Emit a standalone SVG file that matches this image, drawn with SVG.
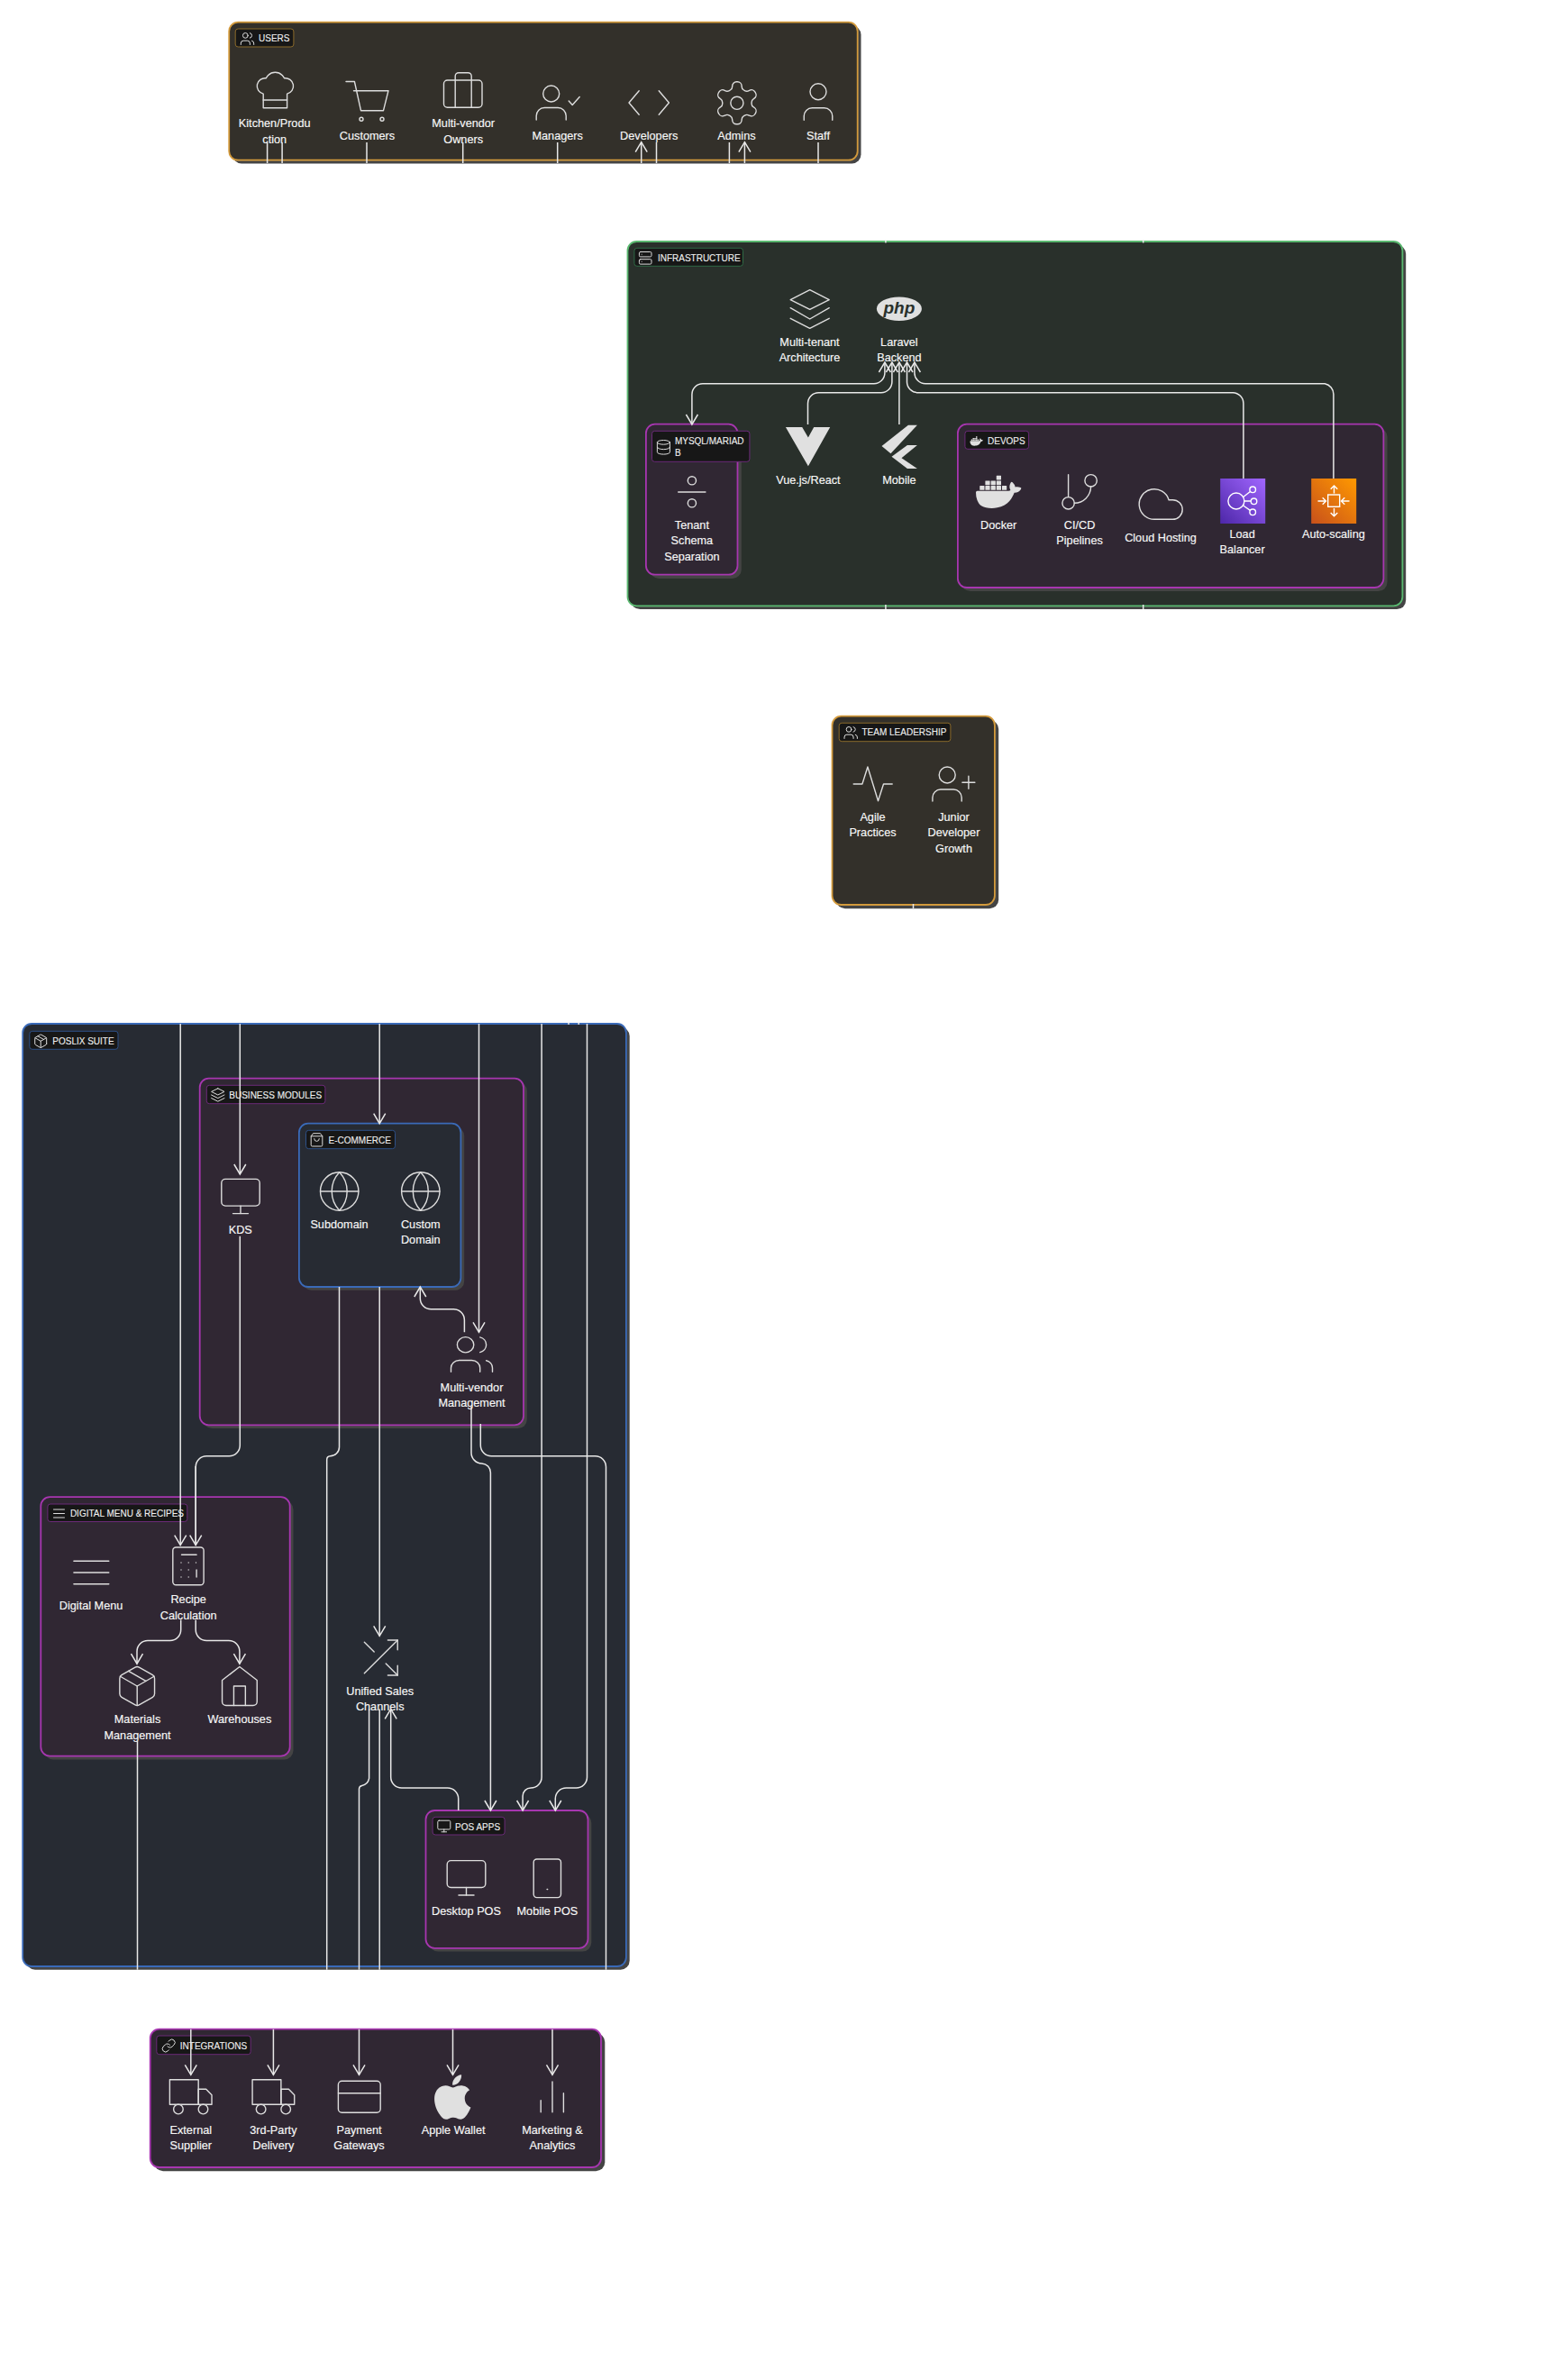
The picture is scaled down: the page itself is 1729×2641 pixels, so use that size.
<svg xmlns="http://www.w3.org/2000/svg" width="1729" height="2641" viewBox="0 0 1729 2641">
<style>
text{font-family:"Liberation Sans",Arial,sans-serif}
.t{font-size:12.7px;fill:#f8f8f8;stroke:#f8f8f8;stroke-width:.15;text-anchor:middle;transform:translate(0,-.3px)}
.h{font-size:10px;fill:#f0f0f0;stroke:#f0f0f0;stroke-width:.1}
.sh{fill:#444444;transform:translate(.8px,.8px)}
.or{fill:#33302a;stroke:#d39a3c;stroke-width:1.8}
.gr{fill:#29302b;stroke:#5ab870;stroke-width:1.8}
.bl{fill:#272b33;stroke:#3a6ab8;stroke-width:1.8}
.pu{fill:#302733;stroke:#a736b0;stroke-width:1.8}
.lb{fill:#171717;stroke-width:1}
.lo{stroke:#8a6a2a}.lg{stroke:#2f6a45}.ll{stroke:#2d5088}.lp{stroke:#6b2a78}
.i{fill:none;stroke:#dddddd;stroke-width:1.4;stroke-linecap:round;stroke-linejoin:round}
.s{fill:none;stroke:#dddddd;stroke-width:1;stroke-linecap:round;stroke-linejoin:round}
.f{fill:#e0e0e0;stroke:none}
defs *{vector-effect:non-scaling-stroke}
.c{fill:none;stroke:#e8e8e8;stroke-width:1.5}
.a{marker-end:url(#arr)}
.b{marker-start:url(#arr)}
</style>
<defs>
<marker id="arr" markerUnits="userSpaceOnUse" markerWidth="16" markerHeight="16" refX="13" refY="8" orient="auto-start-reverse" overflow="visible"><path d="M2 1.5L13 8L2 14.5" fill="none" stroke="#e8e8e8" stroke-width="1.5"/></marker>
<linearGradient id="gp" x1="0" y1="1" x2="1" y2="0"><stop offset="0" stop-color="#4d27a8"/><stop offset="1" stop-color="#a166ff"/></linearGradient>
<linearGradient id="go" x1="0" y1="1" x2="1" y2="0"><stop offset="0" stop-color="#c8511b"/><stop offset="1" stop-color="#ff9900"/></linearGradient>
<g id="chef" transform="translate(-12,-12)"><path d="M6 13.87A4 4 0 0 1 7.41 6a5.11 5.11 0 0 1 1.05-1.54 5 5 0 0 1 7.08 0A5.11 5.11 0 0 1 16.59 6 4 4 0 0 1 18 13.87V21H6Z"/><line x1="6" y1="17" x2="18" y2="17"/></g>
<g id="user" transform="translate(-12,-12)"><path d="M19 21v-2a4 4 0 0 0-4-4H9a4 4 0 0 0-4 4v2"/><circle cx="12" cy="7" r="4"/></g>
<g id="users" transform="translate(-12,-12)"><path d="M16 21v-2a4 4 0 0 0-4-4H6a4 4 0 0 0-4 4v2"/><circle cx="9" cy="7" r="4"/><path d="M22 21v-2a4 4 0 0 0-3-3.87"/><path d="M16 3.13a4 4 0 0 1 0 7.75"/></g>
<g id="gear" transform="translate(-12,-12)"><path d="M12.22 2h-.44a2 2 0 0 0-2 2v.18a2 2 0 0 1-1 1.73l-.43.25a2 2 0 0 1-2 0l-.15-.08a2 2 0 0 0-2.73.73l-.22.38a2 2 0 0 0 .73 2.73l.15.1a2 2 0 0 1 1 1.72v.51a2 2 0 0 1-1 1.74l-.15.09a2 2 0 0 0-.73 2.73l.22.38a2 2 0 0 0 2.73.73l.15-.08a2 2 0 0 1 2 0l.43.25a2 2 0 0 1 1 1.73V20a2 2 0 0 0 2 2h.44a2 2 0 0 0 2-2v-.18a2 2 0 0 1 1-1.73l.43-.25a2 2 0 0 1 2 0l.15.08a2 2 0 0 0 2.73-.73l.22-.39a2 2 0 0 0-.73-2.73l-.15-.08a2 2 0 0 1-1-1.74v-.5a2 2 0 0 1 1-1.74l.15-.09a2 2 0 0 0 .73-2.73l-.22-.38a2 2 0 0 0-2.73-.73l-.15.08a2 2 0 0 1-2 0l-.43-.25a2 2 0 0 1-1-1.73V4a2 2 0 0 0-2-2z"/><circle cx="12" cy="12" r="3"/></g>
<g id="server" transform="translate(-12,-12)"><rect x="2" y="2" width="20" height="8" rx="2"/><rect x="2" y="14" width="20" height="8" rx="2"/><line x1="6" y1="6" x2="6.01" y2="6"/><line x1="6" y1="18" x2="6.01" y2="18"/></g>
<g id="db" transform="translate(-12,-12)"><ellipse cx="12" cy="5" rx="9" ry="3"/><path d="M3 5V19A9 3 0 0 0 21 19V5"/><path d="M3 12A9 3 0 0 0 21 12"/></g>
<g id="monitor" transform="translate(-12,-12)"><rect x="2" y="3" width="20" height="14" rx="2"/><line x1="8" y1="21" x2="16" y2="21"/><line x1="12" y1="17" x2="12" y2="21"/></g>
<g id="globe" transform="translate(-12,-12)"><circle cx="12" cy="12" r="10"/><path d="M12 2a14.5 14.5 0 0 0 0 20 14.5 14.5 0 0 0 0-20"/><path d="M2 12h20"/></g>
<g id="package" transform="translate(-12,-12)"><path d="M16.5 9.4 7.55 4.24"/><path d="M21 16V8a2 2 0 0 0-1-1.73l-7-4a2 2 0 0 0-2 0l-7 4A2 2 0 0 0 3 8v8a2 2 0 0 0 1 1.73l7 4a2 2 0 0 0 2 0l7-4A2 2 0 0 0 21 16z"/><polyline points="3.29 7 12 12 20.71 7"/><line x1="12" y1="22" x2="12" y2="12"/></g>
<g id="layers" transform="translate(-12,-12)"><polygon points="12 2 2 7 12 12 22 7 12 2"/><polyline points="2 17 12 22 22 17"/><polyline points="2 12 12 17 22 12"/></g>
<g id="bag" transform="translate(-12,-12)"><path d="M6 2 3 6v14a2 2 0 0 0 2 2h14a2 2 0 0 0 2-2V6l-3-4Z"/><path d="M3 6h18"/><path d="M16 10a4 4 0 0 1-8 0"/></g>
<g id="menu" transform="translate(-12,-12)"><line x1="4" y1="6" x2="20" y2="6"/><line x1="4" y1="12" x2="20" y2="12"/><line x1="4" y1="18" x2="20" y2="18"/></g>
<g id="link" transform="translate(-12,-12)"><path d="M10 13a5 5 0 0 0 7.54.54l3-3a5 5 0 0 0-7.07-7.07l-1.72 1.71"/><path d="M14 11a5 5 0 0 0-7.54-.54l-3 3a5 5 0 0 0 7.07 7.07l1.71-1.71"/></g>
<g id="truck" transform="translate(-12,-12)"><rect x="1" y="3" width="15" height="13"/><polygon points="16 8 20 8 23 11 23 16 16 16 16 8"/><circle cx="5.5" cy="18.5" r="2.5"/><circle cx="18.5" cy="18.5" r="2.5"/></g>
<g id="docker" transform="translate(-12,-12)"><path stroke="none" fill="#e0e0e0" d="M13.983 11.078h2.119a.186.186 0 00.186-.185V9.006a.186.186 0 00-.186-.186h-2.119a.185.185 0 00-.185.185v1.888c0 .102.083.185.185.185m-2.954-5.43h2.118a.186.186 0 00.186-.186V3.574a.186.186 0 00-.186-.185h-2.118a.185.185 0 00-.185.185v1.888c0 .102.082.185.185.186m0 2.716h2.118a.187.187 0 00.186-.186V6.29a.186.186 0 00-.186-.185h-2.118a.185.185 0 00-.185.185v1.887c0 .102.082.185.185.186m-2.93 0h2.12a.186.186 0 00.184-.186V6.29a.185.185 0 00-.185-.185H8.1a.185.185 0 00-.185.185v1.887c0 .102.083.185.185.186m-2.964 0h2.119a.186.186 0 00.185-.186V6.29a.185.185 0 00-.185-.185H5.136a.186.186 0 00-.186.185v1.887c0 .102.084.185.186.186m5.893 2.715h2.118a.186.186 0 00.186-.185V9.006a.186.186 0 00-.186-.186h-2.118a.185.185 0 00-.185.185v1.888c0 .102.082.185.185.185m-2.93 0h2.12a.185.185 0 00.184-.185V9.006a.185.185 0 00-.184-.186h-2.12a.185.185 0 00-.184.185v1.888c0 .102.083.185.185.185m-2.964 0h2.119a.185.185 0 00.185-.185V9.006a.185.185 0 00-.184-.186h-2.12a.186.186 0 00-.186.186v1.887c0 .102.084.185.186.185m-2.92 0h2.12a.185.185 0 00.184-.185V9.006a.185.185 0 00-.184-.186h-2.12a.185.185 0 00-.184.185v1.888c0 .102.082.185.185.185M23.763 9.89c-.065-.051-.672-.51-1.954-.51-.338.001-.676.03-1.01.087-.248-1.7-1.653-2.53-1.716-2.566l-.344-.199-.226.327c-.284.438-.49.922-.612 1.43-.23.97-.09 1.882.403 2.661-.595.332-1.55.413-1.744.42H.751a.751.751 0 00-.75.748 11.376 11.376 0 00.692 4.062c.545 1.428 1.355 2.48 2.41 3.124 1.18.723 3.1 1.137 5.275 1.137.983.003 1.963-.086 2.93-.266a12.248 12.248 0 003.823-1.389c.98-.567 1.86-1.288 2.61-2.136 1.252-1.418 1.998-2.997 2.553-4.4h.221c1.372 0 2.215-.549 2.68-1.009.309-.293.55-.65.707-1.046l.098-.288Z"/></g>
<path id="apple" d="M12.152 6.896c-.948 0-2.415-1.078-3.96-1.04-2.04.027-3.91 1.183-4.961 3.014-2.117 3.675-.546 9.103 1.519 12.09 1.013 1.454 2.208 3.09 3.792 3.039 1.52-.065 2.09-.987 3.935-.987 1.831 0 2.35.987 3.96.948 1.637-.026 2.676-1.48 3.676-2.948 1.156-1.688 1.636-3.325 1.662-3.415-.039-.013-3.182-1.221-3.22-4.857-.026-3.04 2.48-4.494 2.597-4.559-1.429-2.09-3.623-2.324-4.39-2.376-2-.156-3.675 1.09-4.61 1.09zM15.53 3.83c.843-1.012 1.4-2.427 1.245-3.83-1.207.052-2.662.805-3.532 1.818-.78.896-1.454 2.338-1.273 3.714 1.338.104 2.715-.688 3.559-1.701"/>
</defs>

<g id="users-group">
<rect class="sh" x="257.2" y="27.7" width="697.5" height="153" rx="10"/>
<rect class="or" x="254.2" y="24.7" width="697.5" height="153" rx="10"/>
<rect class="lb lo" x="261.2" y="32" width="64.7" height="20" rx="3"/>
<use href="#users" class="s" transform="translate(274.5 43) scale(.72)"/>
<text class="h" x="287" y="45.6">USERS</text>
</g>
<g id="kitchen"><use href="#chef" class="i" transform="translate(305.4 100) scale(2.2)"/><text class="t" x="304.7" y="141.2">Kitchen/Produ</text><text class="t" x="304.7" y="159.3">ction</text></g>
<g id="customers"><path class="i" d="M384 90.5h9.4l7.1 32.2h25l5.5-22H392.5"/><circle class="i" cx="401" cy="132.3" r="2"/><circle class="i" cx="424" cy="132.3" r="2"/><text class="t" x="407.5" y="155.2">Customers</text></g>
<g id="owners"><rect class="i" x="492.5" y="89" width="42.5" height="30.3" rx="4"/><path class="i" d="M505.2 119.3V84.5a3.8 3.8 0 0 1 3.8-3.8h10.4a3.8 3.8 0 0 1 3.8 3.8v34.8"/><text class="t" x="514.2" y="141.2">Multi-vendor</text><text class="t" x="514.2" y="159.3">Owners</text></g>
<g id="managers" transform="translate(1.2 0)"><circle class="i" cx="610.5" cy="104" r="9"/><path class="i" d="M594 133v-4.5a9 9 0 0 1 9-9h15a9 9 0 0 1 9 9v4.5"/><path class="i" d="M630 112l4 4.5 8-9"/><text class="t" x="617.5" y="155.2">Managers</text></g>
<g id="developers" transform="translate(1.2 0)"><path class="i" d="M708 100.7l-11.2 13.3 11.2 13.3M730 100.7l11.2 13.3-11.2 13.3"/><text class="t" x="719" y="155.2">Developers</text></g>
<g id="admins" transform="translate(1.2 0)"><use href="#gear" class="i" transform="translate(816.7 114.3) scale(2.35)"/><text class="t" x="816.2" y="155.2">Admins</text></g>
<g id="staff" transform="translate(1.2 0)"><use href="#user" class="i" transform="translate(906.8 113) scale(2.25)"/><text class="t" x="906.8" y="155.2">Staff</text></g>

<g transform="translate(1.2 0)">
<g id="infrastructure">
<rect class="sh" x="698.3" y="271" width="859.9" height="404.3" rx="10"/>
<rect class="gr" x="695.3" y="268" width="859.9" height="404.3" rx="10"/>
<rect class="lb lg" x="702.7" y="275.3" width="120.6" height="20" rx="3"/>
<use href="#server" class="s" transform="translate(715 286.3) scale(.68)"/>
<text class="h" x="728.7" y="289.6">INFRASTRUCTURE</text>
</g>
<g id="multi-tenant"><path class="i" d="M897.5 321.7L876 332.7l21.5 10.6 21.5-10.6zM876 341.7l21.5 12.3 21.5-12.3M876 353.3l21.5 11 21.5-11"/><text class="t" x="897.3" y="384.2">Multi-tenant</text><text class="t" x="897.3" y="401.5">Architecture</text></g>
<g id="laravel"><ellipse class="f" cx="996.7" cy="342.7" rx="25" ry="13.3"/><text x="996.7" y="348" text-anchor="middle" font-size="19" font-weight="bold" font-style="italic" fill="#29302b">php</text><text class="t" x="996.7" y="384.2">Laravel</text><text class="t" x="996.7" y="401.5">Backend</text></g>
<g id="mysql">
<rect class="sh" x="719.2" y="474.2" width="101.6" height="167" rx="10"/>
<rect class="pu" x="715.7" y="470.7" width="101.6" height="167" rx="10"/>
<rect class="lb lp" x="722.3" y="478.3" width="108.4" height="34" rx="3"/>
<use href="#db" class="s" transform="translate(735.2 496.3) scale(.78)"/>
<text class="h" x="747.7" y="492.6">MYSQL/MARIAD</text><text class="h" x="747.7" y="506.3">B</text>
<circle class="i" cx="766.7" cy="533.3" r="4.6"/><circle class="i" cx="766.7" cy="558.3" r="4.6"/><line class="i" x1="751.5" y1="546" x2="781.7" y2="546"/>
<text class="t" x="766.7" y="587.2">Tenant</text><text class="t" x="766.7" y="604.8">Schema</text><text class="t" x="766.7" y="622.2">Separation</text>
</g>
<g id="vue"><path class="f" d="M870.7 474H889L895.7 485.5L902 474H920L895.7 517.3Z"/><text class="t" x="895.7" y="537.2">Vue.js/React</text></g>
<g id="mobile"><path class="f" d="M1006.7 471.7h10L987.3 503.3l-10-8.3zM1005.7 494h11L999.3 508.3 1016.7 520h-11L988.3 506.7z"/><text class="t" x="996.7" y="537.2">Mobile</text></g>
<g id="devops">
<rect class="sh" x="1065" y="474" width="472.5" height="181.3" rx="10"/>
<rect class="pu" x="1061.7" y="470.7" width="472.5" height="181.3" rx="10"/>
<rect class="lb lp" x="1069.7" y="478.3" width="70.7" height="20" rx="3"/>
<use href="#docker" class="s" transform="translate(1082.5 489.5) scale(.6)"/>
<text class="h" x="1094.8" y="492.6">DEVOPS</text>
</g>
<g id="docker-node"><use href="#docker" class="i" transform="translate(1107 545.8) scale(2.1)"/><text class="t" x="1107" y="587.2">Docker</text></g>
<g id="cicd"><line class="i" x1="1184.4" y1="526.7" x2="1184.4" y2="551.5"/><circle class="i" cx="1184.4" cy="558.3" r="6.7"/><circle class="i" cx="1209.4" cy="533.3" r="6.7"/><path class="i" d="M1209.4 540a18.5 18.5 0 0 1-18.3 18.3"/><text class="t" x="1196.9" y="587.2">CI/CD</text><text class="t" x="1196.9" y="604.8">Pipelines</text></g>
<g id="cloud"><path class="i" transform="translate(1258.2 530.7) scale(2.4)" vector-effect="non-scaling-stroke" d="M17.5 19H9a7 7 0 1 1 6.71-9h1.79a4.5 4.5 0 1 1 0 9Z"/><text class="t" x="1286.8" y="601.2">Cloud Hosting</text></g>
<g id="load-balancer"><rect x="1353" y="531" width="50" height="50" fill="url(#gp)"/>
<g fill="none" stroke="#ffffff" stroke-width="1.4"><circle cx="1370.7" cy="556" r="9"/><circle cx="1389" cy="543.3" r="3.3"/><circle cx="1390.3" cy="556.3" r="3.3"/><circle cx="1389" cy="568.3" r="3.3"/><path d="M1378.5 551.5l7.7-6M1379.7 556h7.4M1378.5 561l7.7 5.3"/></g>
<text class="t" x="1377.4" y="597.2">Load</text><text class="t" x="1377.4" y="614.5">Balancer</text></g>
<g id="auto-scaling"><rect x="1454" y="531" width="50" height="50" fill="url(#go)"/>
<g fill="none" stroke="#ffffff" stroke-width="1.4"><rect x="1472.5" y="549" width="13" height="13.3"/><path d="M1479.3 547.5v-8.5m-3.8 3.8l3.8-3.8 3.8 3.8M1479.3 564v8.7m-3.8-3.8l3.8 3.8 3.8-3.8M1461.3 556h9m-3.8-3.8l3.8 3.8-3.8 3.8M1496.3 556h-9m3.8-3.8l-3.8 3.8 3.8 3.8"/></g>
<text class="t" x="1478.7" y="597.2">Auto-scaling</text></g>

<g id="team-leadership">
<rect class="sh" x="925.8" y="798.2" width="180.4" height="209.3" rx="10"/>
<rect class="or" x="922.3" y="794.7" width="180.4" height="209.3" rx="10"/>
<rect class="lb lo" x="930" y="802.3" width="123.7" height="20.4" rx="3"/>
<use href="#users" class="s" transform="translate(943 813) scale(.72)"/>
<text class="h" x="955.3" y="816.3">TEAM LEADERSHIP</text>
</g>
<g id="agile"><polyline class="i" points="946,870 955.7,870 961.7,851 973.3,888.7 979.3,870 989,870"/><text class="t" x="967.3" y="911.2">Agile</text><text class="t" x="967.3" y="928.5">Practices</text></g>
<g id="junior"><circle class="i" cx="1050" cy="860" r="9"/><path class="i" d="M1033.7 889v-4a9 9 0 0 1 9-9h14.3a9 9 0 0 1 9 9v4"/><path class="i" d="M1073.7 861.3v14M1066.7 868.3h14"/><text class="t" x="1057.3" y="911.2">Junior</text><text class="t" x="1057.3" y="928.5">Developer</text><text class="t" x="1057.3" y="946.2">Growth</text></g>
</g>

<g transform="translate(.5 0)">
<g id="poslix-suite">
<rect class="sh" x="27.7" y="1139" width="669.7" height="1046" rx="10"/>
<rect class="bl" x="24.7" y="1136" width="669.7" height="1046" rx="10"/>
<rect class="lb ll" x="32.3" y="1144.3" width="98.2" height="20" rx="3"/>
<use href="#package" class="s" transform="translate(44.7 1155.3) scale(.72)"/>
<text class="h" x="57.8" y="1158.6">POSLIX SUITE</text>
</g>
<g id="business-modules">
<rect class="sh" x="224.2" y="1199.7" width="359.3" height="384.6" rx="10"/>
<rect class="pu" x="221.2" y="1196.7" width="359.3" height="384.6" rx="10"/>
<rect class="lb lp" x="228.8" y="1204.3" width="131.6" height="20.4" rx="3"/>
<use href="#layers" class="s" transform="translate(241.3 1215) scale(.72)"/>
<text class="h" x="253.8" y="1218.6">BUSINESS MODULES</text>
</g>
<g id="kds"><use href="#monitor" class="i" transform="translate(266.5 1327.5) scale(2.12)"/><text class="t" x="266.3" y="1369.5">KDS</text></g>
<g id="e-commerce">
<rect class="sh" x="334.4" y="1249.7" width="179.5" height="181.3" rx="10"/>
<rect class="bl" x="331.4" y="1246.7" width="179.5" height="181.3" rx="10"/>
<rect class="lb ll" x="339" y="1254.3" width="99" height="20.4" rx="3"/>
<use href="#bag" class="s" transform="translate(351 1265) scale(.7)"/>
<text class="h" x="364" y="1268.6">E-COMMERCE</text>
</g>
<g id="subdomain"><use href="#globe" class="i" transform="translate(376.2 1322) scale(2.12)"/><text class="t" x="376" y="1363.5">Subdomain</text></g>
<g id="custom-domain"><use href="#globe" class="i" transform="translate(466.3 1322) scale(2.12)"/><text class="t" x="466.3" y="1363.5">Custom</text><text class="t" x="466.3" y="1380.8">Domain</text></g>
<g id="mv-management"><use href="#users" class="i" transform="translate(523 1503) scale(2.3 2.15)"/><text class="t" x="523" y="1544.5">Multi-vendor</text><text class="t" x="523" y="1561.8">Management</text></g>

<g id="digital-menu-recipes">
<rect class="sh" x="47.8" y="1664.2" width="276.4" height="287.4" rx="10"/>
<rect class="pu" x="44.8" y="1661.2" width="276.4" height="287.4" rx="10"/>
<rect class="lb lp" x="52.4" y="1669" width="154.9" height="19.5" rx="3"/>
<use href="#menu" class="s" transform="translate(65 1679.5) scale(.75)"/>
<text class="h" x="77.4" y="1683">DIGITAL MENU &amp; RECIPES</text>
</g>
<g id="digital-menu"><path class="i" d="M81.4 1732.3h38.9M81.4 1745h38.9M81.4 1757.7h38.9"/><text class="t" x="100.6" y="1786.3">Digital Menu</text></g>
<g id="recipe"><rect class="i" x="191.3" y="1717" width="34.3" height="41.8" rx="3.5"/><path class="i" d="M201 1725.2h16.6M217.6 1742v8"/><g fill="#dddddd"><circle cx="200.5" cy="1734" r=".7"/><circle cx="208.7" cy="1734" r=".7"/><circle cx="217" cy="1734" r=".7"/><circle cx="200.5" cy="1742" r=".7"/><circle cx="208.7" cy="1742" r=".7"/><circle cx="200.5" cy="1750" r=".7"/><circle cx="208.7" cy="1750" r=".7"/></g><text class="t" x="208.7" y="1779.2">Recipe</text><text class="t" x="208.7" y="1797">Calculation</text></g>
<g id="materials"><use href="#package" class="i" transform="translate(151.7 1871) scale(2.15)"/><text class="t" x="152" y="1912.4">Materials</text><text class="t" x="152" y="1930.2">Management</text></g>
<g id="warehouses"><path class="i" transform="translate(265.4 1871) scale(2.15) translate(-12 -12)" vector-effect="non-scaling-stroke" d="M3 9l9-7 9 7v11a2 2 0 0 1-2 2H5a2 2 0 0 1-2-2z"/><polyline class="i" transform="translate(265.4 1871) scale(2.15) translate(-12 -12)" vector-effect="non-scaling-stroke" points="9 22 9 12 15 12 15 22"/><text class="t" x="265.4" y="1912.4">Warehouses</text></g>
<g id="unified-sales"><g class="i" transform="translate(421.2 1839.5) scale(2.17) translate(-12 -12)"><polyline vector-effect="non-scaling-stroke" points="16 3 21 3 21 8"/><line vector-effect="non-scaling-stroke" x1="4" y1="20" x2="21" y2="3"/><polyline vector-effect="non-scaling-stroke" points="21 16 21 21 16 21"/><line vector-effect="non-scaling-stroke" x1="15" y1="15" x2="21" y2="21"/><line vector-effect="non-scaling-stroke" x1="4" y1="4" x2="9" y2="9"/></g><text class="t" x="421.2" y="1881.2">Unified Sales</text><text class="t" x="421.2" y="1898.5">Channels</text></g>
<g id="pos-apps">
<rect class="sh" x="475" y="2012" width="180" height="152.8" rx="10"/>
<rect class="pu" x="472" y="2009" width="180" height="152.8" rx="10"/>
<rect class="lb lp" x="479.6" y="2016.3" width="80" height="19.7" rx="3"/>
<use href="#monitor" class="s" transform="translate(492.3 2026.5) scale(.7)"/>
<text class="h" x="504.6" y="2030.6">POS APPS</text>
</g>
<g id="desktop-pos"><use href="#monitor" class="i" transform="translate(517 2083.8) scale(2.13)"/><text class="t" x="517" y="2125.1">Desktop POS</text></g>
<g id="mobile-pos"><rect class="i" x="591.7" y="2063" width="30.3" height="42.6" rx="3.5"/><line class="i" x1="606.6" y1="2096.5" x2="607.2" y2="2096.5" stroke-width="1"/><text class="t" x="606.9" y="2125.1">Mobile POS</text></g>

<g id="integrations">
<rect class="sh" x="169.7" y="2255.2" width="500.3" height="153.3" rx="10"/>
<rect class="pu" x="166.2" y="2251.7" width="500.3" height="153.3" rx="10"/>
<rect class="lb lp" x="173.3" y="2259" width="104.4" height="20.7" rx="3"/>
<use href="#link" class="s" transform="translate(186.7 2270) scale(.7)"/>
<text class="h" x="199.3" y="2273.6">INTEGRATIONS</text>
</g>
<g id="external-supplier"><use href="#truck" class="i" transform="translate(211.2 2326.8) scale(2.12)"/><text class="t" x="211.3" y="2368.5">External</text><text class="t" x="211.3" y="2385.8">Supplier</text></g>
<g id="third-party"><use href="#truck" class="i" transform="translate(302.9 2326.8) scale(2.12)"/><text class="t" x="302.9" y="2368.5">3rd-Party</text><text class="t" x="302.9" y="2385.8">Delivery</text></g>
<g id="payment"><rect class="i" x="374.9" y="2309.3" width="46.8" height="35" rx="4"/><line class="i" x1="374.9" y1="2322.7" x2="421.7" y2="2322.7"/><text class="t" x="398" y="2368.5">Payment</text><text class="t" x="398" y="2385.8">Gateways</text></g>
<g id="apple-wallet"><use href="#apple" class="f" transform="translate(477 2302.3) scale(2.06)"/><text class="t" x="502.6" y="2368.5">Apple Wallet</text></g>
<g id="marketing"><path class="i" d="M599.7 2330.7v13M612.5 2310v33.7M624.9 2322.7v21"/><text class="t" x="612.5" y="2368.5">Marketing &amp;</text><text class="t" x="612.5" y="2385.8">Analytics</text></g>
</g>

<g id="connectors">
<path class="c" d="M296.6 158V181M313.1 158V181M407 158V181M513.7 158V181M618.7 158V181M728.5 158V181M809.4 158V181M908 158V181"/>
<path class="c a" d="M711.7 181V157.7"/>
<path class="c a" d="M826.4 181V157.7"/>
<g transform="translate(1.2 0)">
<path class="c a b" d="M980.7 402V414a12 12 0 0 1-12 11.7H778.7a12 12 0 0 0-12 12V471"/>
<path class="c b" d="M988.7 402V424a12 12 0 0 1-12 11.7H907.3a12 12 0 0 0-12 12V471"/>
<path class="c b" d="M996.7 402V471"/>
<path class="c b" d="M1005.3 402V424a12 12 0 0 0 12 11.7H1367a12 12 0 0 1 11.7 12V531"/>
<path class="c b" d="M1013.7 402V414a12 12 0 0 0 12 11.7H1469a12 12 0 0 1 9.7 12V531"/>
<path class="c" d="M981.7 266.5V269.5M1267.5 266.5V269.5M981.7 671V676M1267.5 671V676M1012.3 1003V1008"/>
</g>
<g transform="translate(.5 0)">
<path class="c" d="M630.5 1135V1137M641.7 1135V1137"/>
<path class="c a" d="M199.7 1136V1714.6"/>
<path class="c a" d="M265.8 1136V1303"/>
<path class="c" d="M265.8 1371.7V1603.7a12 12 0 0 1-12 12H228.7a12 12 0 0 0-12 12V1714.6"/>
<path class="c a" d="M216.7 1627V1714.6"/>
<path class="c a" d="M420.7 1136V1246.7"/>
<path class="c a" d="M531 1136V1478.3"/>
<path class="c a" d="M514.9 1478.3V1464.7a12 12 0 0 0-12-12H477.8a12 12 0 0 1-12-12V1428"/>
<path class="c" d="M376 1428V1605.7a10 10 0 0 1-10 10 4 4 0 0 0-3.8 4V2185.7"/>
<path class="c a" d="M420.7 1428V1815.4"/>
<path class="c a" d="M522.5 1561V1612a12 12 0 0 0 11.7 12 10 10 0 0 1 9.7 10V2009"/>
<path class="c" d="M532.8 1580V1603.7a12 12 0 0 0 12 12H660a12 12 0 0 1 12 12V2185.7"/>
<path class="c a" d="M600.6 1136V1972a12 12 0 0 1-12 12a9 9 0 0 0-9 9V2009"/>
<path class="c a" d="M651 1136V1972a12 12 0 0 1-12 12H627.8a12 12 0 0 0-12 12V2009"/>
<path class="c a" d="M508.2 2009V1996a12 12 0 0 0-12-12H445.2a12 12 0 0 1-12-12V1896.4"/>
<path class="c" d="M409.1 1896.4V1973.4a10 10 0 0 1-8 8 4 4 0 0 0-3.1 4V2185.7"/>
<path class="c" d="M420.7 1896.4V2185.7"/>
<path class="c a" d="M200.2 1797.6V1808.5a12 12 0 0 1-12 12H163.5a12 12 0 0 0-12 12V1846.2"/>
<path class="c a" d="M216.7 1797.6V1808.5a12 12 0 0 0 12 12H253.4a12 12 0 0 1 12 12V1846.2"/>
<path class="c" d="M152 1932V2185.7"/>
<path class="c a" d="M211.3 2251.7V2302.3"/>
<path class="c a" d="M302.9 2251.7V2302.3"/>
<path class="c a" d="M398 2251.7V2302.3"/>
<path class="c a" d="M502 2251.7V2302.3"/>
<path class="c a" d="M612.5 2251.7V2302.3"/>
</g>
</g>
</svg>
